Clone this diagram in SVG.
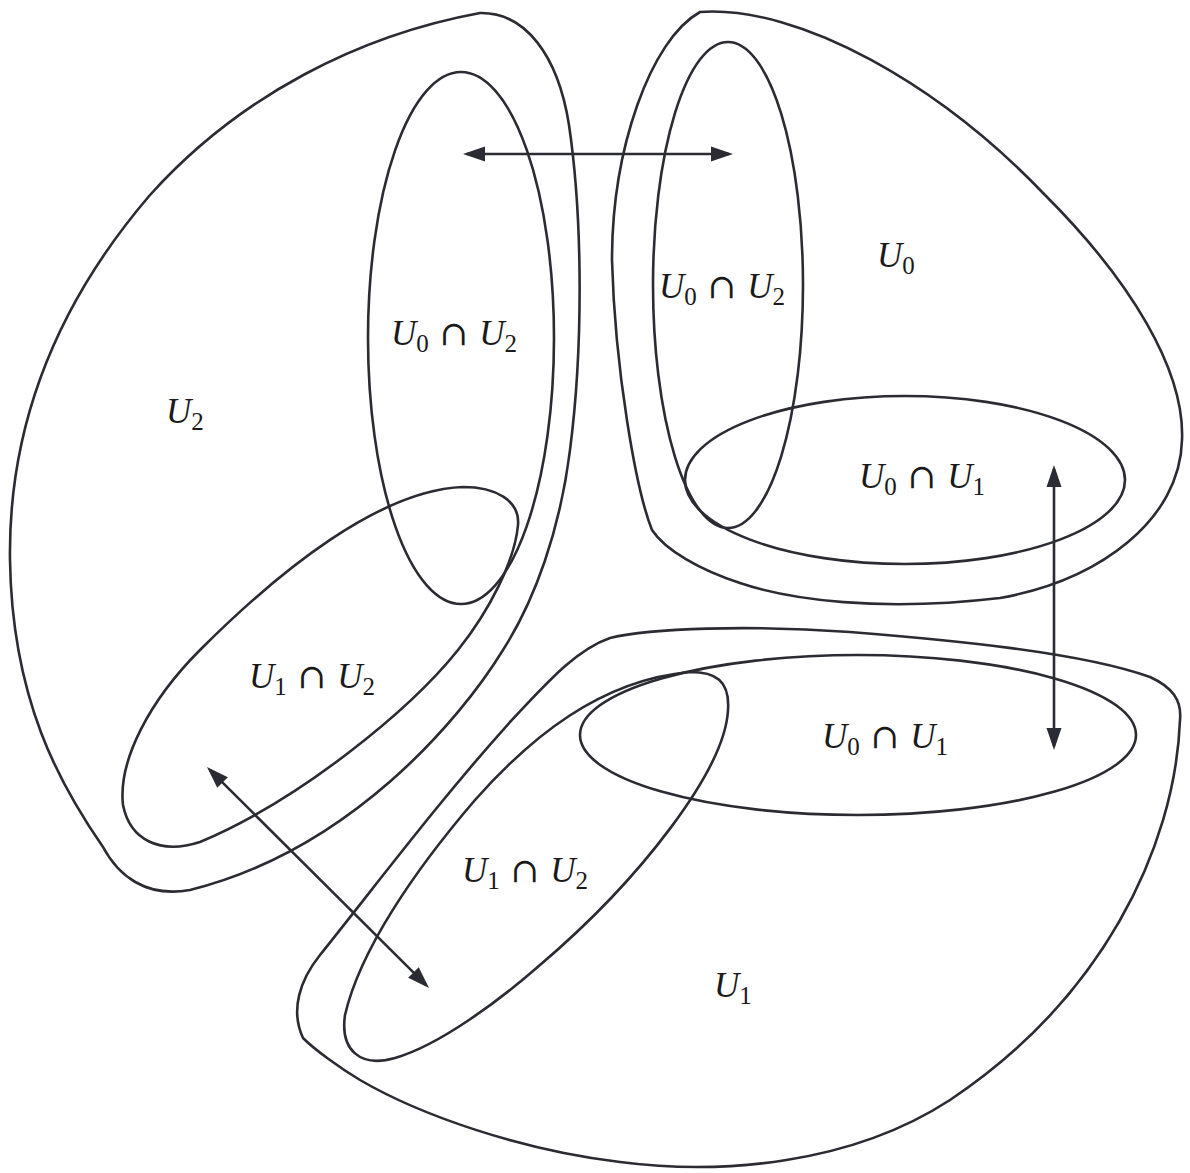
<svg xmlns="http://www.w3.org/2000/svg" width="1190" height="1173" viewBox="0 0 1190 1173">
<style>
.o{fill:none;stroke:#2b2b33;stroke-width:2.6;stroke-linejoin:round}
.a{fill:none;stroke:#2b2b33;stroke-width:2.6;marker-start:url(#ah);marker-end:url(#ah)}
text{font-family:"Liberation Serif","DejaVu Serif",serif;font-size:35px;fill:#1a1a1a}
.u{font-style:italic}
.s{font-size:25px}
.c{font-family:"DejaVu Serif",serif;font-size:34px}
</style>
<defs>
<marker id="ah" markerUnits="userSpaceOnUse" markerWidth="24" markerHeight="16" refX="18" refY="8" orient="auto-start-reverse">
<path d="M0,0.5 L22,8 L0,15.5 Z" fill="#2b2b33"/>
</marker>
</defs>
<rect width="1190" height="1173" fill="#fff"/>

<g id="U2">
<path class="o" d="M480,13 C525,12 558,55 569,125 C583,220 583,350 570,450 C560,530 535,600 503,650 C460,720 350,850 190,890 C145,898 118,875 103,847 C60,785 12,700 10,560 C8,420 60,300 150,195 C240,95 360,35 480,13 Z"/>
<text x="166" y="423"><tspan class="u">U</tspan><tspan class="s" dy="7">2</tspan></text>
</g>

<g id="U0">
<path class="o" d="M700,12 C800,5 940,85 1045,195 C1130,280 1185,370 1182,440 C1180,520 1100,580 1000,598 C880,612 790,600 740,583 C700,570 665,550 652,530 C636,490 615,370 612,260 C612,150 650,40 700,12 Z"/>
<text x="877" y="267"><tspan class="u">U</tspan><tspan class="s" dy="7">0</tspan></text>
</g>

<g id="U1">
<path class="o" d="M303,1038 C290,1010 300,980 320,955 C380,880 440,800 510,722 C545,685 575,650 610,638 C650,628 750,625 850,632 C950,640 1080,652 1150,677 C1172,687 1182,700 1180,720 C1175,850 1100,1000 950,1100 C850,1165 720,1175 620,1162 C520,1150 420,1115 360,1080 C340,1068 315,1050 303,1038 Z"/>
<text x="714" y="997"><tspan class="u">U</tspan><tspan class="s" dy="7">1</tspan></text>
</g>

<g id="U0nU2-left">
<ellipse class="o" cx="461" cy="338" rx="93" ry="266"/>
<text x="391" y="345"><tspan class="u">U</tspan><tspan class="s" dy="7">0</tspan><tspan class="c" dy="-7" dx="11">∩</tspan><tspan class="u" dx="11">U</tspan><tspan class="s" dy="7">2</tspan></text>
</g>

<g id="U1nU2-left">
<path class="o" d="M463,487 C495,487 520,500 518,525 C515,560 490,610 458,650 C410,710 300,800 200,842 C160,855 130,840 123,805 C118,760 150,700 200,650 C280,570 380,490 463,487 Z"/>
<text x="249" y="688"><tspan class="u">U</tspan><tspan class="s" dy="7">1</tspan><tspan class="c" dy="-7" dx="11">∩</tspan><tspan class="u" dx="11">U</tspan><tspan class="s" dy="7">2</tspan></text>
</g>

<g id="U0nU2-right">
<ellipse class="o" cx="728" cy="285" rx="75" ry="243"/>
<text x="659" y="298"><tspan class="u">U</tspan><tspan class="s" dy="7">0</tspan><tspan class="c" dy="-7" dx="11">∩</tspan><tspan class="u" dx="11">U</tspan><tspan class="s" dy="7">2</tspan></text>
</g>

<g id="U0nU1-upper">
<ellipse class="o" cx="905" cy="480" rx="220" ry="84"/>
<text x="859" y="488"><tspan class="u">U</tspan><tspan class="s" dy="7">0</tspan><tspan class="c" dy="-7" dx="11">∩</tspan><tspan class="u" dx="11">U</tspan><tspan class="s" dy="7">1</tspan></text>
</g>

<g id="U0nU1-lower">
<ellipse class="o" cx="858" cy="735" rx="278" ry="80"/>
<text x="822" y="748"><tspan class="u">U</tspan><tspan class="s" dy="7">0</tspan><tspan class="c" dy="-7" dx="11">∩</tspan><tspan class="u" dx="11">U</tspan><tspan class="s" dy="7">1</tspan></text>
</g>

<g id="U1nU2-lower">
<path class="o" d="M690,672 C715,672 730,680 728,710 C725,770 640,880 540,965 C500,1000 440,1045 395,1058 C360,1068 340,1050 345,1015 C360,950 415,870 475,800 C530,738 600,680 690,672 Z"/>
<text x="462" y="882"><tspan class="u">U</tspan><tspan class="s" dy="7">1</tspan><tspan class="c" dy="-7" dx="11">∩</tspan><tspan class="u" dx="11">U</tspan><tspan class="s" dy="7">2</tspan></text>
</g>

<g id="connectors">
<line class="a" x1="467" y1="154" x2="729" y2="154"/>
<line class="a" x1="1054" y1="469" x2="1054" y2="746"/>
<line class="a" x1="209.8" y1="769.8" x2="426.2" y2="985.2"/>
</g>
</svg>
